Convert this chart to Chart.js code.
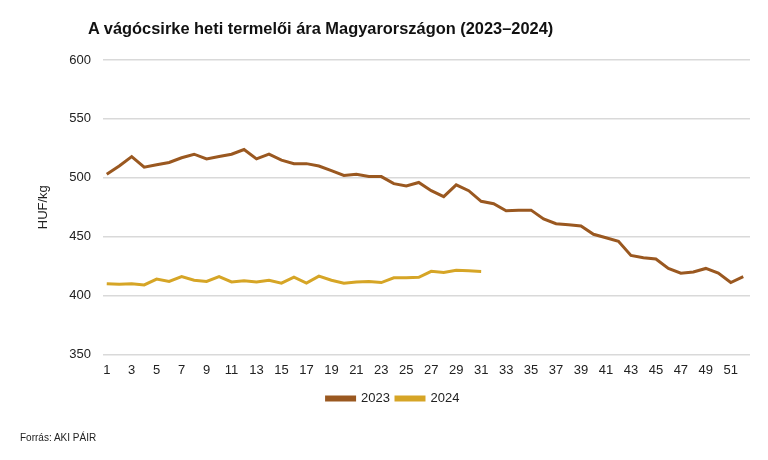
<!DOCTYPE html>
<html>
<head>
<meta charset="utf-8">
<script src="https://cdn.jsdelivr.net/npm/chart.js@4"></script>
<style>
  body { margin: 0; background: #fff; }
  #wrap { position: relative; width: 768px; height: 460px; }
  #chart { position: absolute; left: 0; top: 0; }
  .title {
    position: absolute; left: 88px; top: 19px;
    font: bold 17px "Liberation Sans", Arial, sans-serif;
    color: #111;
    transform: scaleX(0.965);
    transform-origin: left top;
    white-space: nowrap;
  }
  .source {
    position: absolute; left: 20px; top: 432px;
    font: 10px "Liberation Sans", Arial, sans-serif;
    color: #222;
  }
</style>
</head>
<body>
<div id="wrap">
  <canvas id="chart" width="768" height="460"></canvas>
  <div class="title">A vágócsirke heti termelői ára Magyarországon (2023–2024)</div>
  <div class="source">Forrás: AKI PÁIR</div>
</div>
<script>
const weeks = Array.from({ length: 52 }, (_, i) => i + 1);
const weekTicks = [1, 3, 5, 7, 9, 11, 13, 15, 17, 19, 21, 23, 25, 27, 29, 31, 33, 35, 37, 39, 41, 43, 45, 47, 49, 51];

const price2023 = [503, 510, 518, 509, 511, 513, 517, 520, 516, 518, 520, 524, 516, 520, 515, 512,
  512, 510, 506, 502, 503, 501, 501, 495, 493, 496, 489, 484, 494, 489, 480, 478,
  472, 472.5, 472.5, 465, 461, 460, 459, 452, 449, 446, 434, 432, 431, 423, 419, 420,
  423, 419, 411, 416];
const price2024 = [410, 409.5, 410, 409, 414, 412, 416, 413, 412, 416, 411.5, 412.5, 411.5, 413, 410.5, 415.5,
  410.5, 416.5, 413, 410.5, 411.5, 412, 411, 415, 415, 415.5, 420.5, 419.5, 421.5, 421, 420.5];

const yTicks = [350, 400, 450, 500, 550, 600];

const font = "'Liberation Sans', Arial, sans-serif";

new Chart(document.getElementById("chart").getContext("2d"), {
  type: "line",
  data: {
    datasets: [{
      label: "2023",
      data: price2023.map((v, i) => ({ x: weeks[i], y: v })),
      borderColor: "#9a5820",
      backgroundColor: "#9a5820",
      borderWidth: 3,
      pointRadius: 0,
      tension: 0,
    }, {
      label: "2024",
      data: price2024.map((v, i) => ({ x: weeks[i], y: v })),
      borderColor: "#d6a526",
      backgroundColor: "#d6a526",
      borderWidth: 3,
      pointRadius: 0,
      tension: 0,
    }]
  },
  options: {
    responsive: false,
    animation: false,
    layout: { padding: { left: 36, right: 18, top: 60, bottom: 45 } },
    scales: {
      x: {
        type: "linear",
        min: 0.7,
        max: 52.54,
        afterBuildTicks: (axis) => { axis.ticks = weekTicks.map((v) => ({ value: v })); },
        grid: { display: false, drawTicks: false },
        border: { display: false },
        ticks: { color: "#222", font: { family: font, size: 13 }, padding: 8, maxRotation: 0, autoSkip: false },
      },
      y: {
        min: 350,
        max: 600,
        afterBuildTicks: (axis) => { axis.ticks = yTicks.map((v) => ({ value: v })); },
        afterFit: (axis) => { axis.width = 67; },
        grid: { color: "#d9d9d9", lineWidth: 1.5, drawTicks: false },
        border: { display: false },
        ticks: { color: "#222", font: { family: font, size: 13 }, padding: 12 },
        title: { display: true, text: "HUF/kg", color: "#222", font: { family: font, size: 13 }, padding: 0 },
      },
    },
    plugins: {
      legend: {
        position: "bottom",
        labels: { color: "#222", font: { family: font, size: 13 }, boxWidth: 28, boxHeight: 3, padding: 6 },
      },
      tooltip: { enabled: false },
    },
  }
});
</script>
</body>
</html>
